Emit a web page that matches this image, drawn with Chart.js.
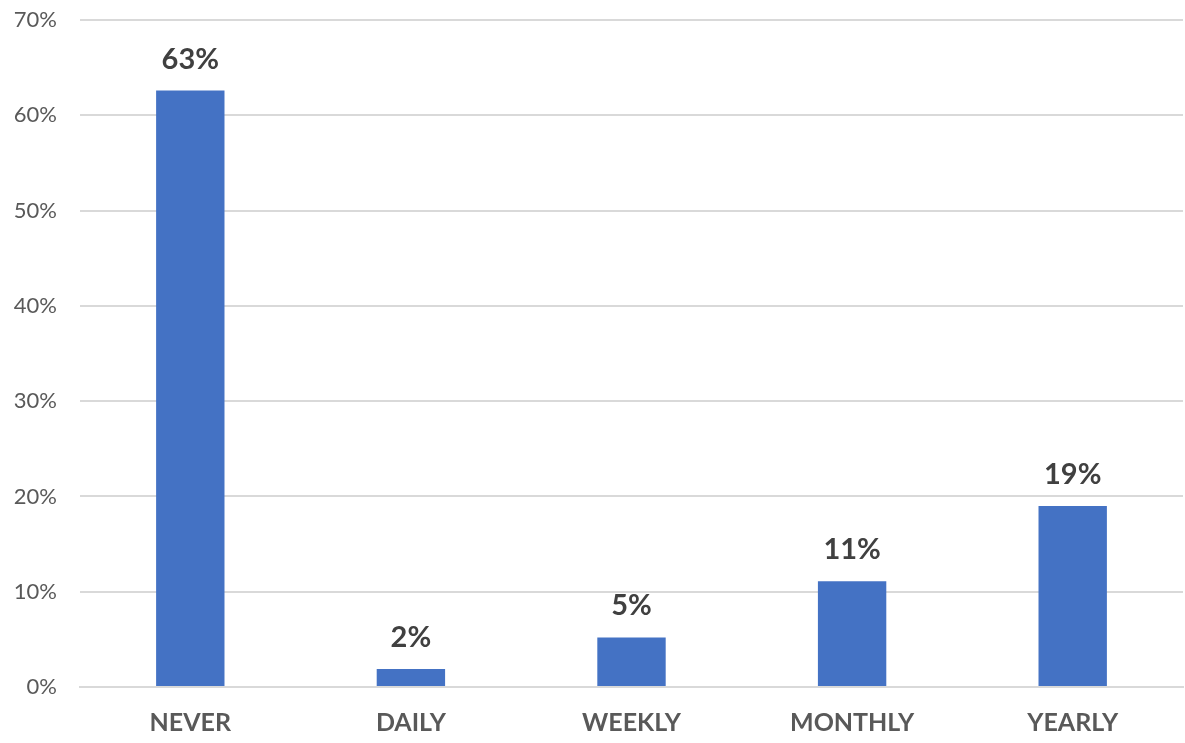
<!DOCTYPE html>
<html>
<head>
<meta charset="utf-8">
<script src="https://cdn.jsdelivr.net/npm/chart.js@4/dist/chart.umd.min.js"></script>
<style>
  html, body { margin: 0; padding: 0; background: #ffffff; }
  #wrap { width: 1185px; height: 743px; position: relative; }
</style>
</head>
<body>
<div id="wrap"><canvas id="bar-chart"></canvas></div>
<script>
// Chart data
var categories = ["NEVER", "DAILY", "WEEKLY", "MONTHLY", "YEARLY"];
var shares = [62.6, 1.9, 5.2, 11.1, 19.0];
var shareLabels = ["63%", "2%", "5%", "11%", "19%"];

var ctx = document.getElementById("bar-chart");

// draws the value labels above each bar
const barValueLabels = {
    id: 'barValueLabels',
    afterDatasetsDraw(chart) {
        const c = chart.ctx;
        c.save();
        c.font = 'bold 29px Lato';
        c.fillStyle = '#404040';
        c.textAlign = 'center';
        c.textBaseline = 'alphabetic';
        chart.getDatasetMeta(0).data.forEach((bar, i) => {
            c.fillText(shareLabels[i], bar.x, bar.y - 22);
        });
        c.restore();
    }
};

var config = {
    type: 'bar',
    data: {
        labels: categories,
        datasets: [{
            data: shares,
            backgroundColor: '#4472C4',
            borderWidth: 0,
            barPercentage: 0.31,
            categoryPercentage: 1
        }]
    },
    options: {
        responsive: true,
        maintainAspectRatio: false,
        animation: false,
        layout: {
            padding: { top: 20, right: 2, left: 0, bottom: -16 }
        },
        plugins: {
            legend: { display: false },
            tooltip: { enabled: false }
        },
        scales: {
            x: {
                grid: { display: false, drawTicks: false },
                border: { display: true, color: '#d9d9d9', width: 2 },
                ticks: {
                    padding: 21,
                    color: '#595959',
                    font: { family: 'Lato', size: 25, weight: 'bold' }
                }
            },
            y: {
                min: 0,
                max: 70,
                afterFit(scale) { scale.width = 80; },
                grid: { color: '#d9d9d9', lineWidth: 2, drawTicks: true, tickLength: 23, tickColor: 'rgba(0,0,0,0)' },
                border: { display: false },
                ticks: {
                    stepSize: 10,
                    padding: 0,
                    color: '#595959',
                    font: { family: 'Lato', size: 22 },
                    callback: function(v) { return v + '%'; }
                }
            }
        }
    },
    plugins: [barValueLabels]
};

var barChart = new Chart(ctx, config);
</script>
</body>
</html>
